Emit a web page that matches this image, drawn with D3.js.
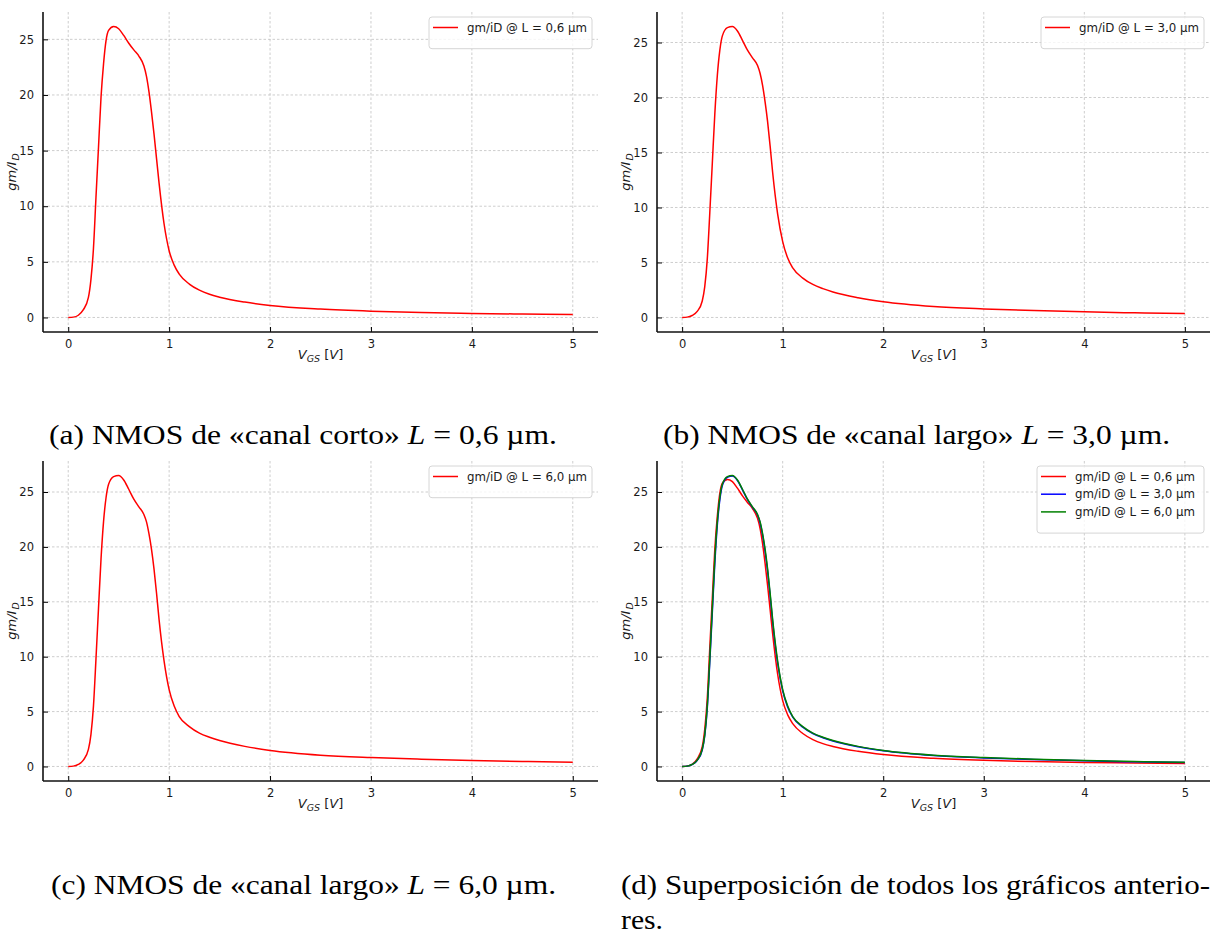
<!DOCTYPE html>
<html>
<head>
<meta charset="utf-8">
<script src="https://cdn.jsdelivr.net/npm/d3@7"></script>
<style>
  body { margin: 0; background: #fff; }
  svg { display: block; }
</style>
</head>
<body>
<div id="chart"></div>
<script>
// gm/iD vs VGS
const vgs = [0, 0.05, 0.1, 0.15, 0.2, 0.225, 0.25, 0.275, 0.3, 0.325, 0.35, 0.375, 0.4, 0.45, 0.5, 0.55,
  0.6, 0.65, 0.7, 0.75, 0.775, 0.8, 0.825, 0.85, 0.875, 0.9, 0.95, 1.0, 1.05, 1.1, 1.2, 1.3, 1.4, 1.5,
  1.75, 2.0, 2.5, 3.0, 3.5, 4.0, 4.5, 5.0];
const gmidL06 = [0, 0.03, 0.2, 0.7, 1.8, 3.4, 6.2, 10.8, 15.3, 19.8, 22.8, 24.9, 25.8, 26.15, 25.95, 25.35,
  24.65, 24.05, 23.5, 22.6, 21.7, 20.3, 18.5, 16.5, 14.3, 12.1, 8.4, 6.0, 4.7, 3.9, 3.0, 2.45, 2.08, 1.82,
  1.38, 1.08, 0.75, 0.56, 0.44, 0.36, 0.31, 0.27];
const gmidL30 = [0, 0.03, 0.18, 0.55, 1.5, 2.8, 5.3, 9.5, 14.0, 18.5, 22.0, 24.3, 25.6, 26.35, 26.45, 26.05,
  25.2, 24.3, 23.6, 22.9, 22.2, 21.1, 19.6, 17.8, 15.6, 13.2, 9.4, 6.9, 5.4, 4.5, 3.58, 3.0, 2.62, 2.32,
  1.8, 1.43, 1.0, 0.78, 0.63, 0.51, 0.42, 0.35];
const gmidL60 = [0, 0.03, 0.19, 0.58, 1.55, 2.9, 5.5, 9.8, 14.4, 18.9, 22.3, 24.5, 25.7, 26.4, 26.5, 26.1,
  25.25, 24.35, 23.65, 22.95, 22.3, 21.2, 19.8, 18.0, 15.8, 13.4, 9.6, 7.0, 5.5, 4.55, 3.63, 3.04, 2.66, 2.36,
  1.83, 1.46, 1.03, 0.81, 0.66, 0.54, 0.45, 0.38];

const seriesNames = ["gm/iD @ L = 0,6 µm", "gm/iD @ L = 3,0 µm", "gm/iD @ L = 6,0 µm"];
const seriesValues = [gmidL06, gmidL30, gmidL60];
const xTicks = [0, 1, 2, 3, 4, 5];
const yTicks = [0, 5, 10, 15, 20, 25];
const captions = [
  ["(a) NMOS de «canal corto» ", "L", " = 0,6 µm."],
  ["(b) NMOS de «canal largo» ", "L", " = 3,0 µm."],
  ["(c) NMOS de «canal largo» ", "L", " = 6,0 µm."],
  ["(d) Superposición de todos los gráficos anterio-"]
];

const width = 1211, height = 934;
const svg = d3.select("#chart").append("svg")
  .attr("width", width).attr("height", height)
  .style("font-family", "'DejaVu Sans', sans-serif");

const panels = [
  {left: 43, right: 598, top: 12, bottom: 332, series: [0], colors: ["#ff0000"]},
  {left: 657, right: 1210, top: 12, bottom: 332, series: [1], colors: ["#ff0000"]},
  {left: 43, right: 598, top: 461, bottom: 781, series: [2], colors: ["#ff0000"]},
  {left: 657, right: 1210, top: 461, bottom: 781, series: [0, 1, 2], colors: ["#ff0000", "#0000ff", "#008000"]}
];

panels.forEach(p => drawPanel(p));

function drawPanel(p) {
  const allY = p.series.flatMap(i => seriesValues[i]);
  const xmin = d3.min(vgs), xmax = d3.max(vgs);
  const ymin = d3.min(allY), ymax = d3.max(allY);
  const xm = (xmax - xmin) * 0.05, ym = (ymax - ymin) * 0.05;
  const x = d3.scaleLinear().domain([xmin - xm, xmax + xm]).range([p.left, p.right]);
  const y = d3.scaleLinear().domain([ymin - ym, ymax + ym]).range([p.bottom, p.top]);

  const g = svg.append("g");

  // grid
  g.append("g").selectAll("line").data(xTicks).enter().append("line")
    .attr("x1", d => x(d)).attr("x2", d => x(d))
    .attr("y1", p.top).attr("y2", p.bottom)
    .attr("stroke", "#b8b8b8").attr("stroke-width", 0.7).attr("stroke-dasharray", "2.5,2");
  g.append("g").selectAll("line").data(yTicks).enter().append("line")
    .attr("y1", d => y(d)).attr("y2", d => y(d))
    .attr("x1", p.left).attr("x2", p.right)
    .attr("stroke", "#b8b8b8").attr("stroke-width", 0.7).attr("stroke-dasharray", "2.5,2");

  // curves
  const line = d3.line().curve(d3.curveMonotoneX).x(d => x(d[0])).y(d => y(d[1]));
  p.series.forEach((si, k) => {
    g.append("path")
      .datum(vgs.map((v, i) => [v, seriesValues[si][i]]))
      .attr("d", line)
      .attr("fill", "none")
      .attr("stroke", p.colors[k])
      .attr("stroke-width", 1.5);
  });

  // axes (ticks inward, only left and bottom)
  const xAxis = d3.axisBottom(x).tickValues(xTicks).tickFormat(d3.format("d"))
    .tickSizeInner(-5).tickSizeOuter(0).tickPadding(8);
  const yAxis = d3.axisLeft(y).tickValues(yTicks).tickFormat(d3.format("d"))
    .tickSizeInner(-5).tickSizeOuter(0).tickPadding(9);
  const gx = g.append("g").attr("transform", `translate(0,${p.bottom})`).call(xAxis);
  const gy = g.append("g").attr("transform", `translate(${p.left},0)`).call(yAxis);
  [gx, gy].forEach(a => {
    a.select(".domain").remove();
    a.selectAll("line").attr("stroke", "#000").attr("stroke-width", 1);
    a.selectAll("text").attr("font-size", 11.5).attr("fill", "#1a1a1a")
      .style("font-family", "'DejaVu Sans', sans-serif");
  });
  // spines
  g.append("line").attr("x1", p.left).attr("x2", p.right).attr("y1", p.bottom).attr("y2", p.bottom)
    .attr("stroke", "#111").attr("stroke-width", 1.6);
  g.append("line").attr("x1", p.left).attr("x2", p.left).attr("y1", p.top).attr("y2", p.bottom)
    .attr("stroke", "#111").attr("stroke-width", 1.6);

  // axis labels
  const xl = g.append("text").attr("x", (p.left + p.right) / 2).attr("y", p.bottom + 27)
    .attr("text-anchor", "middle").attr("font-size", 13).attr("fill", "#1a1a1a");
  xl.append("tspan").attr("font-style", "italic").text("V");
  xl.append("tspan").attr("font-style", "italic").attr("font-size", 9.5).attr("dy", 3).text("GS");
  xl.append("tspan").attr("dy", -3).text(" [");
  xl.append("tspan").attr("font-style", "italic").text("V");
  xl.append("tspan").text("]");

  const yl = g.append("text")
    .attr("transform", `translate(${p.left - 27},${(p.top + p.bottom) / 2}) rotate(-90)`)
    .attr("text-anchor", "middle").attr("font-size", 13).attr("fill", "#1a1a1a");
  yl.append("tspan").attr("font-style", "italic").text("gm/I");
  yl.append("tspan").attr("font-style", "italic").attr("font-size", 9.5).attr("dx", 1).attr("dy", 2.5).text("D");

  // legend
  const rowH = 17.7;
  const legW = p.series.length > 1 ? 167 : 163;
  const legH = 10 + rowH * p.series.length + 4;
  const lx = p.right - 6 - legW, ly = p.top + 5;
  const leg = g.append("g");
  leg.append("rect").attr("x", lx).attr("y", ly).attr("width", legW).attr("height", legH)
    .attr("rx", 3).attr("fill", "#fff").attr("fill-opacity", 0.8)
    .attr("stroke", "#d6d6d6").attr("stroke-width", 1);
  p.series.forEach((si, k) => {
    const cy = ly + 10.5 + rowH * k;
    leg.append("line").attr("x1", lx + 4).attr("x2", lx + 29).attr("y1", cy).attr("y2", cy)
      .attr("stroke", p.colors[k]).attr("stroke-width", 1.5);
    leg.append("text").attr("x", lx + 38).attr("y", cy).attr("dominant-baseline", "central")
      .attr("font-size", 11.8).attr("fill", "#1a1a1a").text(seriesNames[si]);
  });
}

// captions
const capFont = "'Liberation Serif', 'DejaVu Serif', serif";
const capPos = [
  {x: 49, y: 444, w: 508},
  {x: 663, y: 444, w: 507},
  {x: 51, y: 894, w: 505},
  {x: 621, y: 894, w: 589}
];
captions.forEach((parts, i) => {
  const c = capPos[i];
  const t = svg.append("text").attr("x", c.x).attr("y", c.y)
    .attr("font-size", 28).attr("fill", "#000")
    .style("font-family", capFont)
    .attr("textLength", c.w).attr("lengthAdjust", "spacingAndGlyphs");
  parts.forEach((s, k) => {
    t.append("tspan").attr("font-style", k === 1 ? "italic" : "normal").text(s);
  });
});
svg.append("text").attr("x", 621).attr("y", 929).attr("font-size", 28)
  .style("font-family", capFont).attr("textLength", 42).attr("lengthAdjust", "spacingAndGlyphs")
  .text("res.");
</script>
</body>
</html>
